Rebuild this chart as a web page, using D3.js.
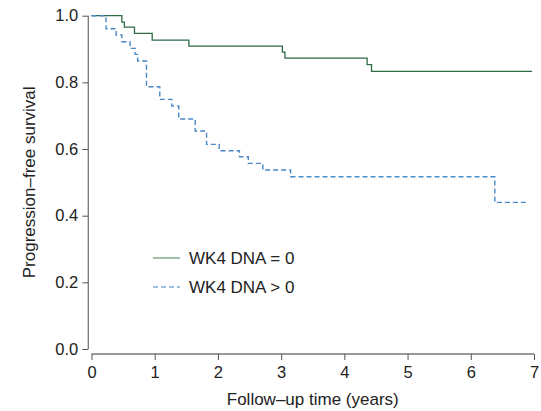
<!DOCTYPE html>
<html lang="en">

<head>
  <meta charset="UTF-8" />
  <title>d3</title>
  <script src="https://cdn.jsdelivr.net/npm/d3@7"></script>
  <style>
    body {
      margin: 0;
      background: #fff;
    }

    #container {
      width: 541px;
      height: 411px;
    }

    text {
      font-family: "Liberation Sans", Arial, sans-serif;
      fill: #222;
    }
  </style>
</head>

<body>
  <div id="container"></div>
  <script>
    // step points: [time in years, survival] -- value holds until next time
    const wk4Zero = [
      [0, 1.0], [0.48, 0.981], [0.52, 0.966], [0.68, 0.947], [0.96, 0.927],
      [1.54, 0.909], [3.02, 0.891], [3.06, 0.873], [4.36, 0.853], [4.43, 0.833],
      [6.97, 0.833]
    ];
    const wk4Pos = [
      [0, 1.0], [0.23, 0.961], [0.39, 0.942], [0.48, 0.922], [0.61, 0.902],
      [0.69, 0.884], [0.73, 0.864], [0.87, 0.787], [1.08, 0.749], [1.27, 0.729],
      [1.38, 0.690], [1.64, 0.654], [1.82, 0.614], [2.02, 0.595], [2.34, 0.577],
      [2.48, 0.557], [2.71, 0.537], [3.15, 0.517], [6.38, 0.44], [6.87, 0.44]
    ];
    const seriesNames = ["WK4 DNA = 0", "WK4 DNA > 0"];
    const xTicks = [0, 1, 2, 3, 4, 5, 6, 7];
    const yTicks = [0, 0.2, 0.4, 0.6, 0.8, 1.0];

    const W = 541, H = 411;
    const svg = d3.select('#container').append('svg')
      .attr('width', W).attr('height', H);

    const x = d3.scaleLinear().domain([0, 7]).range([91.5, 534]);
    const y = d3.scaleLinear().domain([0, 1]).range([349, 15.7]);

    // y axis (gray, offset left of the x origin)
    const yAxis = svg.append('g')
      .attr('transform', 'translate(88.3,0)')
      .call(d3.axisLeft(y).tickValues(yTicks).tickFormat(d3.format('.1f')).tickSize(6).tickPadding(4));
    yAxis.select('.domain').attr('stroke', '#777').attr('stroke-width', 1.3).attr('d', `M0,${y(1)}V${y(0)}`);
    yAxis.selectAll('.tick line').attr('stroke', '#555');
    yAxis.selectAll('.tick text').style('font-size', '16.5px').attr('fill', '#222');

    // x axis
    const xAxis = svg.append('g')
      .attr('transform', 'translate(0,354)')
      .call(d3.axisBottom(x).tickValues(xTicks).tickFormat(d3.format('d')).tickSize(6).tickPadding(6));
    xAxis.select('.domain').attr('stroke', '#333').attr('stroke-width', 1.2).attr('d', `M${x(0)},0H${x(7)}`);
    xAxis.selectAll('.tick line').attr('stroke', '#555');
    xAxis.selectAll('.tick text').style('font-size', '16.5px').attr('fill', '#222');

    // titles
    svg.append('text')
      .attr('x', (x(0) + x(7)) / 2).attr('y', 405)
      .attr('text-anchor', 'middle')
      .style('font-size', '17px')
      .text('Follow\u2013up time (years)');

    svg.append('text')
      .attr('transform', `translate(35,${(y(0) + y(1)) / 2}) rotate(-90)`)
      .attr('text-anchor', 'middle')
      .style('font-size', '17px')
      .text('Progression\u2013free survival');

    // step curves
    const line = d3.line()
      .x(d => x(d[0]))
      .y(d => y(d[1]))
      .curve(d3.curveStepAfter);

    svg.append('path')
      .datum(wk4Zero)
      .attr('d', line)
      .attr('fill', 'none')
      .attr('stroke', '#2f6b45')
      .attr('stroke-width', 1.3);

    svg.append('path')
      .datum(wk4Pos)
      .attr('d', line)
      .attr('fill', 'none')
      .attr('stroke', '#4a88c8')
      .attr('stroke-width', 1.4)
      .attr('stroke-dasharray', '5,3');

    // legend
    const legend = svg.append('g');
    const legendStyle = [
      { color: '#6f9c7d', dash: null },
      { color: '#7fa9d6', dash: '5,3' }
    ];
    seriesNames.forEach((name, i) => {
      const ly = 258 + i * 29;
      legend.append('line')
        .attr('x1', 153).attr('x2', 180)
        .attr('y1', ly).attr('y2', ly)
        .attr('stroke', legendStyle[i].color)
        .attr('stroke-width', 1.3)
        .attr('stroke-dasharray', legendStyle[i].dash);
      legend.append('text')
        .attr('x', 189).attr('y', ly + 6)
        .style('font-size', '17px')
        .text(name);
    });
  </script>
</body>

</html>
